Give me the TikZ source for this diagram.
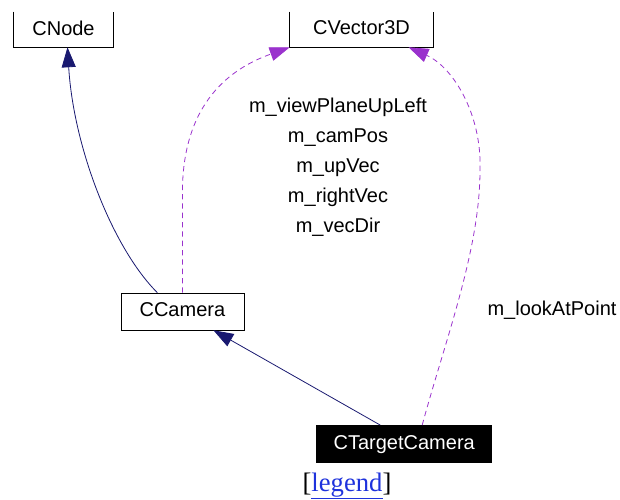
\documentclass[tikz,border=0pt]{standalone}
\usepackage{fontspec}
\setmainfont{Liberation Serif}
\setsansfont{Liberation Sans}
\usetikzlibrary{arrows.meta,calc}

\definecolor{inhcol}{RGB}{25,25,112}
\definecolor{usecol}{RGB}{154,50,205}
\definecolor{linkcol}{RGB}{30,50,220}

\tikzset{
  cls/.style={font=\sffamily\fontsize{15}{18}\selectfont, inner sep=0pt, text depth=0.25em},
  lbl/.style={font=\sffamily\fontsize{15}{22.5}\selectfont, inner sep=0pt, align=center},
  inherit/.style={draw=inhcol, line width=0.6pt, -{Triangle[length=15pt,width=10.5pt]}},
  uses/.style={draw=usecol, line width=0.6pt, dash pattern=on 4pt off 3pt, -{Triangle[length=15pt,width=10.5pt]}},
}

\begin{document}
\begin{tikzpicture}[x=0.75pt,y=-0.75pt]
  \useasboundingbox (0,0) rectangle (620,499);
  % classes (top two are cut at the upper edge)
  \node[cls, minimum width=74.25pt, minimum height=26.25pt] (cnode) at (63.5,29.5) {CNode};
  \draw (cnode.north west) |- (cnode.south east) -- (cnode.north east);
  \node[cls, minimum width=107.25pt, minimum height=26.25pt] (cvector) at (361.5,29.5) {CVector3D};
  \draw (cvector.north west) |- (cvector.south east) -- (cvector.north east);
  \node[cls, draw, minimum width=92.25pt, minimum height=27.75pt] (ccamera) at (182.4,311.5) {CCamera};
  \node[cls, draw, fill=black, text=white, minimum width=131.25pt, minimum height=28pt] (ctarget) at (404.2,444) {CTargetCamera};

  % inheritance
  \draw[inherit] ($(ccamera.north)+(-25,0)$) .. controls +(-45,-45) and +(6,100) .. ($(cnode.south)+(4,0)$);
  \draw[inherit] ($(ctarget.north)+(-24,0)$) -- ($(ccamera.south)+(31,0)$);

  % members
  \draw[uses] (ccamera.north) -- +(0,-100) .. controls +(0,-98) and +(-50,18) .. (cvector.south west);
  \draw[uses] ($(ctarget.north)+(18,0)$) .. controls +(23,-85) and +(0,80) .. (480,170)
    .. controls +(2,-55) and +(45,20) .. ($(cvector.south)+(47,0)$);
  \node[lbl] (members) at (338,167) {m\_viewPlaneUpLeft\\m\_camPos\\m\_upVec\\m\_rightVec\\m\_vecDir};
  \node[lbl] (lookat) at (552,310) {m\_lookAtPoint};

  \node[font=\fontsize{20}{24}\selectfont, anchor=base, inner sep=0pt] (legend) at (347,491) {[\textcolor{linkcol}{\underline{legend}}]};
\end{tikzpicture}
\end{document}
